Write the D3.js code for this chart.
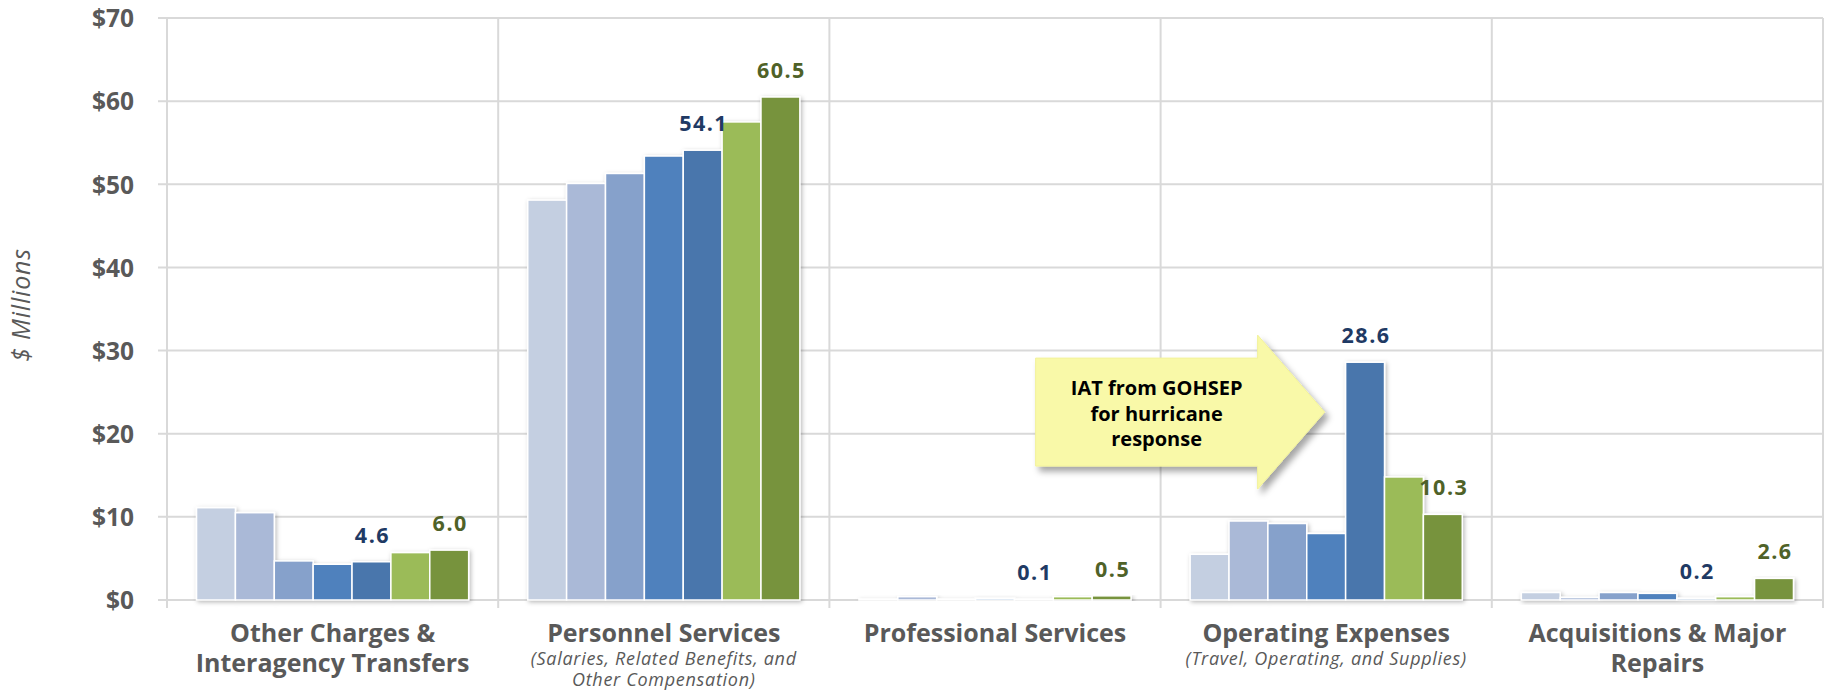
<!DOCTYPE html>
<html>
<head>
<meta charset="utf-8">
<script src="https://cdn.jsdelivr.net/npm/d3@7"></script>
<style>
  body { margin: 0; background: #fff; }
  svg { display: block; font-family: "Open Sans", "DejaVu Sans", sans-serif; }
</style>
</head>
<body>
<svg id="chart"></svg>
<script>
// categories (main title lines) and the small italic notes under some of them
var catTitles = [
  ["Other Charges &", "Interagency Transfers"],
  ["Personnel Services"],
  ["Professional Services"],
  ["Operating Expenses"],
  ["Acquisitions & Major", "Repairs"]
];
var catNotes = [
  [],
  ["(Salaries, Related Benefits, and", "Other Compensation)"],
  [],
  ["(Travel, Operating, and Supplies)"],
  []
];

// seven fiscal years, one array per year (one value per category)
var seriesNames = ["FY16", "FY17", "FY18", "FY19", "FY20", "FY21", "FY22"];
var fy16 = [11.1, 48.1, 0.1, 5.5, 0.9];
var fy17 = [10.5, 50.1, 0.4, 9.5, 0.3];
var fy18 = [4.7, 51.3, 0.1, 9.2, 0.9];
var fy19 = [4.3, 53.4, 0.2, 8.0, 0.8];
var fy20 = [4.6, 54.1, 0.1, 28.6, 0.2];
var fy21 = [5.7, 57.5, 0.4, 14.8, 0.4];
var fy22 = [6.0, 60.5, 0.5, 10.3, 2.6];
var seriesValues = [fy16, fy17, fy18, fy19, fy20, fy21, fy22];

// only these series get a value label
var labelledSeries = [4, 6];

var yTicks = [0, 10, 20, 30, 40, 50, 60, 70];
var calloutLines = ["IAT from GOHSEP", "for hurricane", "response"];

var colors = ["#C4CFE1", "#AAB9D7", "#86A1CB", "#4F81BD", "#4876AC", "#9BBB59", "#77933C"];
var labelColors = { 4: "#1F3A64", 6: "#4F6228" };

var W = 1825, H = 697;
var margin = { top: 18, right: 2, bottom: 97, left: 167 };

var svg = d3.select("#chart").attr("width", W).attr("height", H);

var defs = svg.append("defs");
defs.append("filter").attr("id", "barShadow")
  .attr("x", "-10%").attr("y", "-10%").attr("width", "130%").attr("height", "130%")
  .append("feDropShadow")
  .attr("dx", 1.5).attr("dy", 1.5).attr("stdDeviation", 2)
  .attr("flood-color", "#000").attr("flood-opacity", 0.28);
defs.append("filter").attr("id", "calloutShadow")
  .attr("x", "-10%").attr("y", "-10%").attr("width", "130%").attr("height", "140%")
  .append("feDropShadow")
  .attr("dx", 4).attr("dy", 5).attr("stdDeviation", 3)
  .attr("flood-color", "#000").attr("flood-opacity", 0.35);

var x0 = d3.scaleBand()
  .domain(d3.range(catTitles.length))
  .range([margin.left, W - margin.right])
  .paddingInner(0).paddingOuter(0);

var x1 = d3.scaleBand()
  .domain(d3.range(seriesNames.length))
  .range([0, x0.bandwidth()])
  .paddingInner(0)
  .paddingOuter(0.76);

var y = d3.scaleLinear()
  .domain([0, 70])
  .range([H - margin.bottom, margin.top]);

var grid = svg.append("g");

// horizontal gridlines + left tick stubs
grid.selectAll("line.h")
  .data(yTicks)
  .enter().append("line")
  .attr("class", "h")
  .attr("x1", margin.left - 9)
  .attr("x2", W - margin.right)
  .attr("y1", function(d){ return y(d) })
  .attr("y2", function(d){ return y(d) })
  .style("stroke", "#D9D9D9")
  .style("stroke-width", 2);

// vertical separators between categories (extend below baseline as ticks)
var seps = d3.range(catTitles.length + 1).map(function(i){
  return i < catTitles.length ? x0(i) : x0(i - 1) + x0.bandwidth();
});
grid.selectAll("line.v")
  .data(seps)
  .enter().append("line")
  .attr("class", "v")
  .attr("x1", function(d){ return d })
  .attr("x2", function(d){ return d })
  .attr("y1", y(70))
  .attr("y2", y(0) + 8)
  .style("stroke", "#D9D9D9")
  .style("stroke-width", 2);

// y axis labels
var yAxis = svg.append("g")
  .attr("transform", "translate(" + (margin.left - 33) + ",0)")
  .call(d3.axisLeft(y).tickValues(yTicks).tickSize(0).tickPadding(0)
    .tickFormat(function(d){ return "$" + d }));
yAxis.select(".domain").remove();
yAxis.selectAll("text")
  .attr("x", 0)
  .attr("dy", "0.36em")
  .style("font-family", "'Open Sans', sans-serif")
  .style("font-weight", "700")
  .style("font-size", "24.5px")
  .style("fill", "#595959");

svg.append("text")
  .attr("transform", "translate(30," + ((y(0) + y(70)) / 2 - 4) + ") rotate(-90)")
  .style("text-anchor", "middle")
  .style("font-style", "italic")
  .style("font-size", "25px")
  .style("letter-spacing", "0.8px")
  .style("fill", "#595959")
  .text("$ Millions");

// bars
var catG = svg.selectAll("g.cat")
  .data(catTitles)
  .enter().append("g")
  .attr("class", "cat")
  .attr("transform", function(d, i){ return "translate(" + x0(i) + ",0)" });

catG.append("g")
  .attr("filter", "url(#barShadow)")
  .selectAll("rect")
  .data(function(d, i){ return seriesValues.map(function(s, j){ return { s: j, v: s[i] } }) })
  .enter().append("rect")
  .attr("x", function(d){ return x1(d.s) })
  .attr("width", x1.bandwidth())
  .attr("y", function(d){ return y(d.v) })
  .attr("height", function(d){ return y(0) - y(d.v) })
  .style("fill", function(d){ return colors[d.s] })
  .style("stroke", "#fff")
  .style("stroke-width", 1.5);

// value labels
catG.selectAll("text.val")
  .data(function(d, i){
    return labelledSeries.map(function(j){ return { s: j, v: seriesValues[j][i] } });
  })
  .enter().append("text")
  .attr("class", "val")
  .attr("x", function(d){ return x1(d.s) + x1.bandwidth() / 2 + 1 })
  .attr("y", function(d){ return y(d.v) - 19 })
  .style("text-anchor", "middle")
  .style("font-weight", "700")
  .style("font-size", "21.5px")
  .style("letter-spacing", "1.5px")
  .style("fill", function(d){ return labelColors[d.s] })
  .text(function(d){ return d3.format(".1f")(d.v) });

// category labels
catG.each(function(lines, i){
  var g = d3.select(this);
  var cx = x0.bandwidth() / 2;
  lines.forEach(function(t, k){
    g.append("text")
      .attr("x", cx)
      .attr("y", 641.5 + k * 30.5)
      .style("text-anchor", "middle")
      .style("font-weight", "700")
      .style("font-size", "25px")
      .style("fill", "#595959")
      .text(t);
  });
  catNotes[i].forEach(function(t, k){
    g.append("text")
      .attr("x", cx)
      .attr("y", 665 + k * 21)
      .style("text-anchor", "middle")
      .style("font-style", "italic")
      .style("font-size", "18px")
      .style("letter-spacing", "0.7px")
      .style("fill", "#595959")
      .text(t);
  });
});

// callout arrow pointing at the FY20 operating expenses bar
var opIdx = 3;
var tipX = x0(opIdx) + x1(4) - 21;
var cy = y(22.6);
var bodyL = tipX - 289, shaftR = tipX - 67;
var bodyH = 54, headH = 77;
var pts = [
  [bodyL, cy - bodyH], [shaftR, cy - bodyH], [shaftR, cy - headH], [tipX, cy],
  [shaftR, cy + headH], [shaftR, cy + bodyH], [bodyL, cy + bodyH]
];
svg.append("path")
  .attr("d", d3.line()(pts) + "Z")
  .attr("filter", "url(#calloutShadow)")
  .style("fill", "#F9F9A8")
  .style("stroke", "#F2F29A")
  .style("stroke-width", 1);

svg.selectAll("text.callout")
  .data(calloutLines)
  .enter().append("text")
  .attr("class", "callout")
  .attr("x", tipX - 168)
  .attr("y", function(d, i){ return cy - 17 + i * 25.5 })
  .style("text-anchor", "middle")
  .style("font-weight", "700")
  .style("font-size", "20px")
  .style("fill", "#000")
  .text(function(d){ return d });
</script>
</body>
</html>
